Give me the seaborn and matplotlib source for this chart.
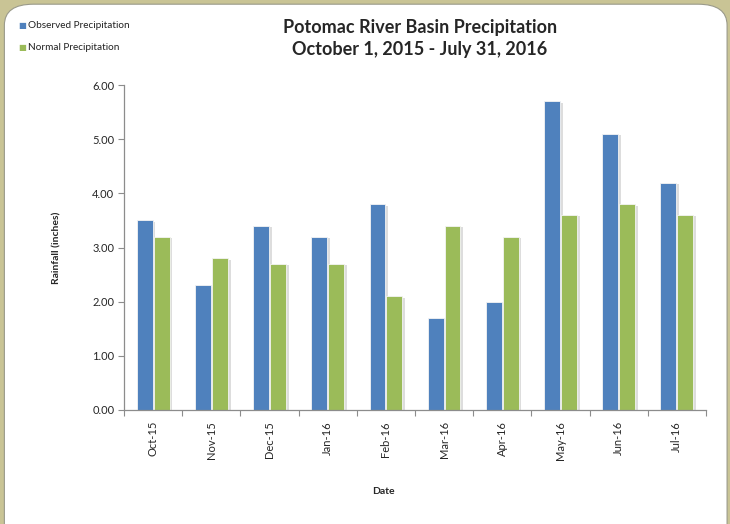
import matplotlib
matplotlib.use('Agg')
import matplotlib.pyplot as plt
import matplotlib.patheffects as pe
from matplotlib.patches import FancyBboxPatch
from matplotlib.ticker import FixedLocator
import pandas as pd
import seaborn as sns

months = ['Oct-15', 'Nov-15', 'Dec-15', 'Jan-16', 'Feb-16',
          'Mar-16', 'Apr-16', 'May-16', 'Jun-16', 'Jul-16']
observed = [3.5, 2.3, 3.4, 3.2, 3.8, 1.7, 2.0, 5.7, 5.1, 4.2]
normal = [3.2, 2.8, 2.7, 2.7, 2.1, 3.4, 3.2, 3.6, 3.8, 3.6]
series = ['Observed Precipitation', 'Normal Precipitation']
colors = ['#4F81BD', '#9BBB59']

data = pd.DataFrame({
    'Date': months * 2,
    'Rainfall': observed + normal,
    'Series': [series[0]] * len(months) + [series[1]] * len(months),
})

sns.set_style('white')
plt.rcParams['font.family'] = ['Lato', 'DejaVu Sans']

fig = plt.figure(figsize=(7.3, 5.24), dpi=100)
fig.patch.set_facecolor('#C9C495')
# white rounded panel behind the chart
box = FancyBboxPatch((0.006, -0.05), 0.990, 1.042, boxstyle='round,pad=0,rounding_size=0.04',
                     transform=fig.transFigure, facecolor='white', edgecolor='#9a9a8a',
                     linewidth=0.8, zorder=-10)
fig.patches.append(box)

ax = fig.add_axes([0.170, 0.2176, 0.797, 0.620])
ax.set_zorder(1)
ax.set_facecolor('none')

sns.barplot(data=data, x='Date', y='Rainfall', hue='Series', palette=colors, saturation=1,
            width=0.58, gap=0.06, ax=ax, legend=False, edgecolor='#f4f4f4', linewidth=0.6)

for bar in ax.patches:
    bar.set_path_effects([pe.SimplePatchShadow(offset=(2, -1), shadow_rgbFace='#a0a0a0', alpha=0.35),
                          pe.Normal()])

ax.set_ylim(0, 6)
ax.set_xlim(-0.5, 9.5)
ax.set_yticks([0, 1, 2, 3, 4, 5, 6])
ax.set_yticklabels(['%.2f' % v for v in [0, 1, 2, 3, 4, 5, 6]], fontsize=8)
ax.tick_params(axis='y', length=4, width=0.8, color='#8c8c8c', left=True, pad=3)
ax.tick_params(axis='x', which='major', length=0, labelsize=8, pad=8, labelrotation=90)
ax.xaxis.set_minor_locator(FixedLocator([i - 0.5 for i in range(len(months) + 1)]))
ax.tick_params(axis='x', which='minor', length=4, width=0.8, color='#8c8c8c', bottom=True)

for s in ['top', 'right']:
    ax.spines[s].set_visible(False)
for s in ['left', 'bottom']:
    ax.spines[s].set_color('#8c8c8c')
    ax.spines[s].set_linewidth(0.9)

ax.set_xlabel('')
ax.set_ylabel('')
fig.text(0.078, 0.528, 'Rainfall (inches)', rotation=90, ha='center', va='center',
         fontsize=7.5, fontweight='bold')
fig.text(0.525, 0.062, 'Date', ha='center', va='center', fontsize=7.5, fontweight='bold')

fig.text(0.575, 0.9466, 'Potomac River Basin Precipitation', ha='center', va='center',
         fontsize=13, fontweight='bold')
fig.text(0.575, 0.9046, 'October 1, 2015 - July 31, 2016', ha='center', va='center',
         fontsize=13, fontweight='bold')

# legend as square markers at top left
for i, (name, c) in enumerate(zip(series, colors)):
    y = 0.951 - i * 0.042
    fig.text(0.030, y, '\u25A0', color=c, fontsize=6, ha='center', va='center',
             family='DejaVu Sans')
    fig.text(0.038, y, name, fontsize=7.2, ha='left', va='center', color='#222222')

fig.savefig('out.png', dpi=100, facecolor=fig.get_facecolor())
